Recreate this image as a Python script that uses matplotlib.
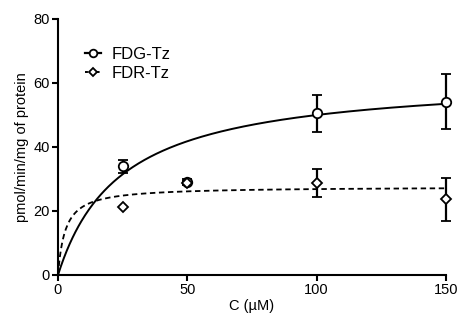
import numpy as np
import matplotlib
matplotlib.use("Agg")
import matplotlib.pyplot as plt
from matplotlib.lines import Line2D

plt.rcParams['font.family'] = ['Liberation Sans', 'DejaVu Sans']

conc = [25, 50, 100, 150]
fdg_mean = [34.0, 29.0, 50.5, 54.2]
fdg_err = [2.0, 1.0, 5.7, 8.6]
fdr_mean = [21.1, 28.8, 28.8, 23.6]
fdr_err = [0.0, 0.5, 4.3, 6.7]

# Michaelis-Menten fit parameters (Vmax, Km)
fdg_fit = (62.2, 24.4)
fdr_fit = (27.6, 2.8)

fig = plt.figure(figsize=(4.58, 3.2), dpi=100)
ax = fig.add_axes([58/458, 1-275/320, (446-58)/458, (275-19)/320])

xs = np.linspace(0, 150, 400)
ax.plot(xs, fdg_fit[0]*xs/(fdg_fit[1]+xs), color='black', lw=1.4)
ax.plot(xs, fdr_fit[0]*xs/(fdr_fit[1]+xs), color='black', lw=1.3, ls=(0, (3, 2)))

ax.errorbar(conc, fdg_mean, yerr=fdg_err, fmt='o', mfc='white', mec='black', mew=1.3,
            ms=6.8, ecolor='black', elinewidth=1.6, capsize=3.5, capthick=1.6, zorder=5,
            clip_on=False)
ax.errorbar(conc, fdr_mean, yerr=fdr_err, fmt='D', mfc='white', mec='black', mew=1.3,
            ms=5.5, ecolor='black', elinewidth=1.6, capsize=3.5, capthick=1.6, zorder=5,
            clip_on=False)

h1 = Line2D([], [], color='black', lw=1.6, marker='o', mfc='white', ms=5.5, mew=1.3)
h2 = Line2D([], [], color='black', lw=1.4, ls=(0, (1.5, 1.5)), marker='D', mfc='white', ms=4.5, mew=1.3)
ax.legend([h1, h2], ['FDG-Tz', 'FDR-Tz'], loc='upper left', bbox_to_anchor=(0.03, 0.95),
          frameon=False, fontsize=12, handlelength=1.0, handletextpad=0.6, labelspacing=0.25)

ax.set_xlim(0, 150)
ax.set_ylim(0, 80)
ax.set_xticks([0, 50, 100, 150])
ax.set_yticks([0, 20, 40, 60, 80])
for s in ['top', 'right']:
    ax.spines[s].set_visible(False)
for s in ['left', 'bottom']:
    ax.spines[s].set_linewidth(1.5)
ax.tick_params(width=1.5, length=4, labelsize=10.5, pad=2)
ax.set_xlabel('C (µM)', fontsize=10.5, labelpad=1)
ax.set_ylabel('pmol/min/mg of protein', fontsize=10.5, labelpad=3)

fig.savefig('out.png', dpi=100)
